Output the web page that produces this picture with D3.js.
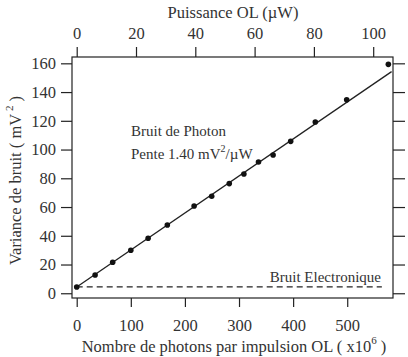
<!DOCTYPE html>
<html>
<head>
<meta charset="utf-8">
<script src="https://cdn.jsdelivr.net/npm/d3@7"></script>
<style>
  body { margin: 0; background: #fff; }
  svg text { font-family: "Liberation Serif", "Times New Roman", serif; fill: #333; }
</style>
</head>
<body>
<script>
// mesures : nombre de photons (x10^6) et variance du bruit (mV^2)
const photons = [0, 34, 66.5, 100, 132, 167.5, 217, 249.5, 282, 309, 336, 363, 395.5, 441, 499, 576];
const variance = [4.4, 12.7, 21.6, 29.9, 38.3, 47.5, 60.7, 67.5, 76.3, 83, 91.3, 96.2, 105.7, 119.2, 134.7, 159.3];

// droite d'ajustement (bruit de photon) et niveau du bruit electronique
const fitX = [0, 582];
const fitY = [4.4, 154.2];
const elecX = [0, 564];
const elecY = [4.5, 4.5];

// graduations
const xTicks = [0, 100, 200, 300, 400, 500];
const topTicks = [0, 20, 40, 60, 80, 100];
const yTicks = [0, 20, 40, 60, 80, 100, 120, 140, 160];
const photonsPerMicroWatt = 5.48; // conversion axe du bas -> axe du haut

const width = 408;
const height = 357;
const margin = { top: 57, right: 15, bottom: 59, left: 72 };

const svg = d3.select("body")
  .append("svg")
  .attr("width", width)
  .attr("height", height);

const x = d3.scaleLinear()
  .domain([-8.7, 584.6])
  .range([margin.left, width - margin.right]);

const xTop = d3.scaleLinear()
  .domain(x.domain().map((d) => d / photonsPerMicroWatt))
  .range(x.range());

const y = d3.scaleLinear()
  .domain([-3.3, 164.4])
  .range([height - margin.bottom, margin.top]);

const stroke = "#222";

// axes
const axisBottom = svg.append("g")
  .attr("transform", `translate(0, ${height - margin.bottom})`)
  .call(d3.axisBottom(x).tickValues(xTicks).tickSize(9).tickPadding(12));

const axisTop = svg.append("g")
  .attr("transform", `translate(0, ${margin.top})`)
  .call(d3.axisTop(xTop).tickValues(topTicks).tickSize(10).tickPadding(8));

const axisLeft = svg.append("g")
  .attr("transform", `translate(${margin.left}, 0)`)
  .call(d3.axisLeft(y).tickValues(yTicks).tickSize(11).tickPadding(5));

const axisRight = svg.append("g")
  .attr("transform", `translate(${width - margin.right}, 0)`)
  .call(d3.axisRight(y).tickValues(yTicks).tickSize(12).tickFormat(""));

[axisBottom, axisTop, axisLeft, axisRight].forEach((a) => {
  a.select(".domain").remove();
  a.selectAll(".tick line").attr("stroke", stroke).attr("stroke-width", 1.2);
  a.selectAll(".tick text")
    .style("font-family", '"Liberation Serif", serif')
    .style("font-size", "16.5px")
    .attr("fill", "#333");
});

// cadre
svg.append("rect")
  .attr("x", margin.left)
  .attr("y", margin.top)
  .attr("width", width - margin.left - margin.right)
  .attr("height", height - margin.top - margin.bottom)
  .attr("fill", "none")
  .attr("stroke", stroke)
  .attr("stroke-width", 1.2);

// bruit electronique (tirets)
svg.append("line")
  .attr("x1", x(elecX[0]))
  .attr("x2", x(elecX[1]))
  .attr("y1", y(elecY[0]))
  .attr("y2", y(elecY[1]))
  .attr("stroke", stroke)
  .attr("stroke-width", 1.2)
  .attr("stroke-dasharray", "6,4");

// ajustement lineaire
svg.append("line")
  .attr("x1", x(fitX[0]))
  .attr("x2", x(fitX[1]))
  .attr("y1", y(fitY[0]))
  .attr("y2", y(fitY[1]))
  .attr("stroke", stroke)
  .attr("stroke-width", 1.3);

// points de mesure
svg.selectAll(".pt")
  .data(photons)
  .join("circle")
  .attr("class", "pt")
  .attr("cx", (d) => x(d))
  .attr("cy", (d, i) => y(variance[i]))
  .attr("r", 2.8)
  .attr("fill", "#111");

// annotations
svg.append("text")
  .attr("x", 131)
  .attr("y", 136)
  .style("font-size", "15px")
  .text("Bruit de Photon");

const pente = svg.append("text")
  .attr("x", 131)
  .attr("y", 159)
  .style("font-size", "15px");
pente.append("tspan").text("Pente 1.40 mV");
pente.append("tspan").attr("dy", -7).style("font-size", "10px").text("2");
pente.append("tspan").attr("dy", 7).text("/µW");

svg.append("text")
  .attr("x", 381)
  .attr("y", 282)
  .attr("text-anchor", "end")
  .style("font-size", "15px")
  .text("Bruit Electronique");

// titres des axes
svg.append("text")
  .attr("x", 233)
  .attr("y", 18)
  .attr("text-anchor", "middle")
  .style("font-size", "16.5px")
  .text("Puissance OL (µW)");

const xTitle = svg.append("text")
  .attr("x", 234)
  .attr("y", 352)
  .attr("text-anchor", "middle")
  .style("font-size", "16.5px");
xTitle.append("tspan").text("Nombre de photons par impulsion OL ( x10");
xTitle.append("tspan").attr("dy", -8).style("font-size", "11px").text("6");
xTitle.append("tspan").attr("dy", 8).text(" )");

const yTitle = svg.append("text")
  .attr("transform", `translate(21, ${(margin.top + height - margin.bottom) / 2 + 3}) rotate(-90)`)
  .attr("text-anchor", "middle")
  .style("font-size", "16.5px");
yTitle.append("tspan").text("Variance de bruit ( mV");
yTitle.append("tspan").attr("dy", -8).style("font-size", "11px").text(" 2");
yTitle.append("tspan").attr("dy", 8).text(" )");
</script>
</body>
</html>
